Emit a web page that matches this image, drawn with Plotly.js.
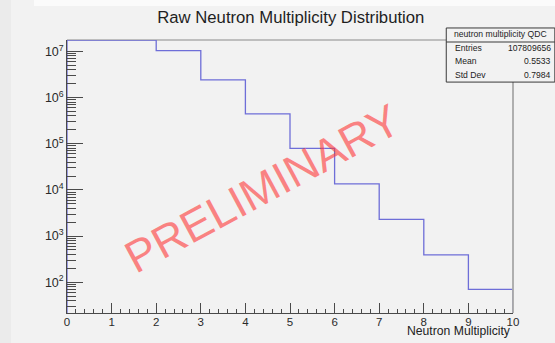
<!DOCTYPE html>
<html>
<head>
<meta charset="utf-8">
<script src="https://cdn.plot.ly/plotly-3.0.1.min.js"></script>
<style>
  html, body { margin: 0; padding: 0; background: #f2f2f2; }
  #wrap { position: relative; width: 555px; height: 343px; overflow: hidden; }
  #bgTop { position: absolute; left: 34px; top: 0; width: 521px; height: 6px; background: #fbfbfb; }
  #bgLeft { position: absolute; left: 0; top: 0; width: 11px; height: 343px; background: #ebebeb; }
  #chart { position: absolute; left: 0; top: 0; width: 555px; height: 343px; }
</style>
</head>
<body>
<div id="wrap">
  <div id="bgLeft"></div>
  <div id="bgTop"></div>
  <div id="chart"></div>
</div>
<script>
// Neutron multiplicity histogram: one bin per multiplicity 0..9
const binLowEdges = [0, 1, 2, 3, 4, 5, 6, 7, 8, 9];
const binWidth = 1;
const counts = [65154000, 29285000, 10400000, 2430000, 445000, 79000, 13500, 2300, 390, 70];

// Statistics box contents
const statsTitle = 'neutron multiplicity QDC';
const statsLabels = ['Entries', 'Mean', 'Std Dev'];
const statsValues = ['107809656', '0.5533', '0.7984'];

const chartTitle = 'Raw Neutron Multiplicity Distribution';
const xTitle = 'Neutron Multiplicity';
const watermark = 'PRELIMINARY';

// Frame geometry (pixels)
const W = 555, H = 343;
const M = { l: 67, r: 42.3, t: 40.3, b: 30.3 };
const plotW = W - M.l - M.r, plotH = H - M.t - M.b;
const fx = px => (px - M.l) / plotW;          // pixel -> paper x
const fy = py => (H - M.b - py) / plotH;      // pixel -> paper y

const yRange = [1.3335, 7.2475];
const yTop = Math.pow(10, yRange[1]);
const yBottom = Math.pow(10, yRange[0]);

// Step outline, bins above the frame are drawn along its top edge
const stepX = [binLowEdges[0]];
const stepY = [yBottom];
binLowEdges.forEach((lo, i) => { stepX.push(lo); stepY.push(Math.min(counts[i], yTop)); });
stepX.push(binLowEdges[binLowEdges.length - 1] + binWidth);
stepY.push(yBottom);

const font = 'Liberation Sans, Arial, Helvetica, sans-serif';

const trace = {
  type: 'scatter', mode: 'lines',
  x: stepX, y: stepY,
  line: { shape: 'hv', color: '#6e6ed8', width: 1.3 },
  hoverinfo: 'skip'
};

const boxL = 446, boxR = 554.5, boxT = 28.3, boxB = 82.3, boxHead = 42.3;
const rowY = [47.8, 61.7, 75.2];

const annotations = [
  {
    text: watermark, xref: 'paper', yref: 'paper',
    x: fx(262), y: fy(188), xanchor: 'center', yanchor: 'middle',
    textangle: -28.3, showarrow: false,
    font: { family: font, size: 45, color: 'rgba(255,55,55,0.6)' }
  },
  {
    text: xTitle, xref: 'paper', yref: 'paper',
    x: 1, y: fy(330.5), xanchor: 'right', yanchor: 'middle', showarrow: false,
    font: { family: font, size: 12.2, color: '#222' }
  },
  {
    text: statsTitle, xref: 'paper', yref: 'paper',
    x: fx((boxL + boxR) / 2), y: fy(34.6), xanchor: 'center', yanchor: 'middle', showarrow: false,
    font: { family: font, size: 8.6, color: '#222' }
  }
];
statsLabels.forEach((lab, i) => {
  annotations.push({
    text: lab, xref: 'paper', yref: 'paper', x: fx(452.5), y: fy(rowY[i]),
    xanchor: 'left', yanchor: 'middle', showarrow: false,
    font: { family: font, size: 8.6, color: '#222' }
  });
  annotations.push({
    text: statsValues[i], xref: 'paper', yref: 'paper', x: fx(552.5), y: fy(rowY[i]),
    xanchor: 'right', yanchor: 'middle', showarrow: false,
    font: { family: font, size: 8.6, color: '#222' }
  });
});

const shapes = [
  // frame top and right edges
  { type: 'line', xref: 'paper', yref: 'paper', x0: 0, x1: 1, y0: 1, y1: 1,
    line: { color: '#8a8a8a', width: 1 }, layer: 'below' },
  { type: 'line', xref: 'paper', yref: 'paper', x0: 1, x1: 1, y0: 0, y1: 1,
    line: { color: '#a8a8a8', width: 1.8 }, layer: 'above' },
  // statistics box
  { type: 'rect', xref: 'paper', yref: 'paper', x0: fx(boxL), x1: fx(boxR), y0: fy(boxB), y1: fy(boxT),
    fillcolor: '#f2f2f2', line: { color: '#3a3a3a', width: 1 }, layer: 'above' },
  { type: 'line', xref: 'paper', yref: 'paper', x0: fx(boxL), x1: fx(boxR), y0: fy(boxHead), y1: fy(boxHead),
    line: { color: '#3a3a3a', width: 1 }, layer: 'above' }
];

const layout = {
  width: W, height: H,
  margin: { l: M.l, r: M.r, t: M.t, b: M.b, pad: 0 },
  paper_bgcolor: 'rgba(0,0,0,0)',
  plot_bgcolor: 'rgba(0,0,0,0)',
  showlegend: false,
  title: {
    text: chartTitle, x: 290.8 / W, xanchor: 'center',
    y: 1 - 17 / H, yanchor: 'middle', yref: 'container',
    font: { family: font, size: 16.7, color: '#1e1e1e' }
  },
  xaxis: {
    range: [0, 10], dtick: 1,
    ticks: 'inside', ticklen: 10, tickcolor: '#4a4a4a',
    minor: { ticks: 'inside', ticklen: 4.5, dtick: 0.2, tickcolor: '#4a4a4a' },
    showline: true, linecolor: '#4a4a4a', linewidth: 1.3,
    showgrid: false, zeroline: false,
    tickfont: { family: font, size: 11.5, color: '#2a2a2a' },
    ticklabelstandoff: -2
  },
  yaxis: {
    type: 'log', range: yRange, dtick: 1, exponentformat: 'power',
    ticks: 'inside', ticklen: 16, tickcolor: '#4a4a4a',
    minor: { ticks: 'inside', ticklen: 9, dtick: 'D1', tickcolor: '#4a4a4a' },
    showline: true, linecolor: '#4a4a4a', linewidth: 1.3,
    showgrid: false, zeroline: false,
    tickfont: { family: font, size: 10, color: '#2a2a2a' }
  },
  shapes: shapes,
  annotations: annotations
};

Plotly.newPlot('chart', [trace], layout, { staticPlot: true, displayModeBar: false });
</script>
</body>
</html>
